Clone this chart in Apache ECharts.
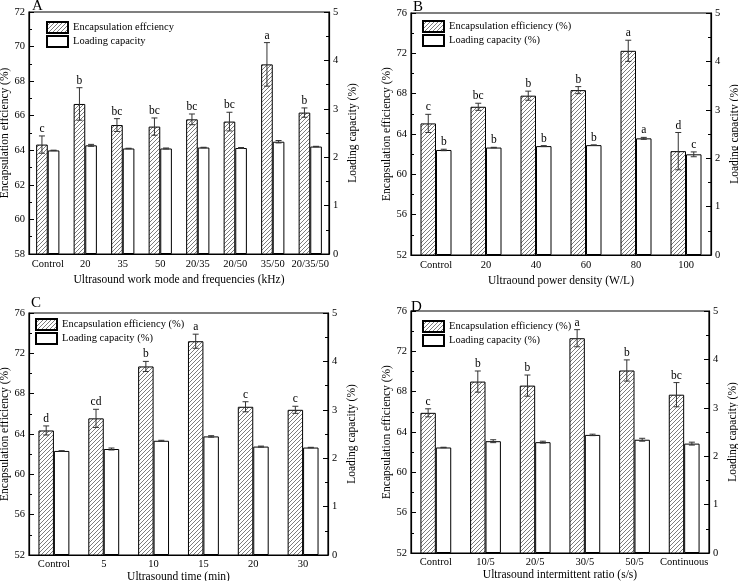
<!DOCTYPE html>
<html>
<head>
<meta charset="utf-8">
<script src="https://cdn.jsdelivr.net/npm/echarts@6/dist/echarts.min.js"></script>
<style>html,body{margin:0;padding:0;background:#fff}#c{width:738px;height:581px}</style>
</head>
<body>
<div id="c"></div>
<script>
// ---------- DATA ----------
const catA = ['Control','20','35','50','20/35','20/50','35/50','20/35/50'];
const eeA = [64.33, 66.68, 65.46, 65.37, 65.79, 65.66, 68.97, 66.18];
const eeErrA = [0.5, 0.94, 0.37, 0.5, 0.31, 0.54, 1.26, 0.27];
const lcA = [2.14, 2.245, 2.18, 2.18, 2.20, 2.19, 2.32, 2.22];
const lcErrA = [0.005, 0.02, 0.005, 0.01, 0.005, 0.01, 0.025, 0.005];
const letEEA = ['c','b','bc','bc','bc','bc','a','b'];
const letLCA = [];

const catB = ['Control','20','40','60','80','100'];
const eeB = [65.05, 66.7, 67.8, 68.35, 72.25, 62.3];
const eeErrB = [0.9, 0.35, 0.45, 0.35, 1.05, 1.85];
const lcB = [2.17, 2.22, 2.25, 2.27, 2.41, 2.08];
const lcErrB = [0.015, 0.005, 0.01, 0.005, 0.02, 0.05];
const letEEB = ['c','bc','b','b','a','d'];
const letLCB = ['b','b','b','b','a','c'];

const catC = ['Control','5','10','15','20','30'];
const eeC = [64.35, 65.55, 70.7, 73.2, 66.7, 66.4];
const eeErrC = [0.45, 0.9, 0.5, 0.7, 0.5, 0.35];
const lcC = [2.15, 2.19, 2.36, 2.45, 2.24, 2.22];
const lcErrC = [0.005, 0.02, 0.01, 0.015, 0.01, 0.005];
const letEEC = ['d','cd','b','a','c','c'];
const letLCC = [];

const catD = ['Control','10/5','20/5','30/5','50/5','Continuous'];
const eeD = [65.9, 69.0, 68.6, 73.3, 70.1, 67.7];
const eeErrD = [0.4, 1.05, 1.05, 0.85, 1.05, 1.2];
const lcD = [2.18, 2.31, 2.29, 2.44, 2.34, 2.26];
const lcErrD = [0.005, 0.03, 0.02, 0.015, 0.03, 0.03];
const letEED = ['c','b','b','a','b','bc'];
const letLCD = [];

const leftTicksA = {min: 58, max: 72, interval: 2};
const leftTicksBCD = {min: 52, max: 76, interval: 4};
const rightTicks = {min: 0, max: 5, interval: 1};

// ---------- STYLE ----------
const FONT = 'Liberation Serif';
function hatch() {
  const s = 4, c = document.createElement('canvas');
  c.width = s; c.height = s;
  const g = c.getContext('2d');
  g.fillStyle = '#fff'; g.fillRect(0, 0, s, s);
  g.strokeStyle = '#444'; g.lineWidth = 0.7;
  g.beginPath();
  g.moveTo(0, s); g.lineTo(s, 0);
  g.moveTo(-1, 1); g.lineTo(1, -1);
  g.moveTo(s - 1, s + 1); g.lineTo(s + 1, s - 1);
  g.stroke();
  return c;
}
const hatchPattern = {image: hatch(), repeat: 'repeat'};

function errRender(letters, side) {
  return function (params, api) {
    const i = api.value(0), v = api.value(1), e = api.value(2);
    const band = api.size([1, 0])[0];
    const off = side * band * 0.155;
    const t = api.coord([i, v + e]);
    const b = api.coord([i, v - e]);
    const x = t[0] + off, cap = 3;
    const st = {stroke: '#333', lineWidth: 1};
    const ch = [
      {type: 'line', shape: {x1: x, y1: t[1], x2: x, y2: b[1]}, style: st},
      {type: 'line', shape: {x1: x - cap, y1: t[1], x2: x + cap, y2: t[1]}, style: st},
      {type: 'line', shape: {x1: x - cap, y1: b[1], x2: x + cap, y2: b[1]}, style: st}
    ];
    const L = letters[params.dataIndex];
    if (L) ch.push({type: 'text', style: {text: L, x: x, y: t[1] - 1, align: 'center', verticalAlign: 'bottom',
      font: '11.5px "' + FONT + '"', fill: '#000'}});
    return {type: 'group', children: ch};
  };
}

const option = {
  animation: false,
  backgroundColor: '#fff',
  title: [], grid: [], xAxis: [], yAxis: [], series: [], legend: []
};

function addPanel(p) {
  const gi = option.grid.length;
  option.grid.push({left: p.g[0], top: p.g[1], width: p.g[2], height: p.g[3], show: true,
    borderColor: '#000', borderWidth: 1.2, backgroundColor: 'transparent', outerBoundsMode: 'none'});
  option.title.push({text: p.label, left: p.lab[0], top: p.lab[1], padding: 0,
    textStyle: {fontFamily: FONT, fontSize: 15, fontWeight: 'normal', color: '#000'}});
  const axLine = {show: true, lineStyle: {color: '#000', width: 1.2}};
  option.xAxis.push({type: 'category', gridIndex: gi, data: p.cats, axisLine: axLine,
    axisTick: {show: false}, axisLabel: {color: '#000', fontFamily: FONT, fontSize: 10.5, margin: p.lm, interval: 0},
    name: p.xName, nameLocation: 'middle', nameGap: p.xGap,
    nameTextStyle: {color: '#000', fontFamily: FONT, fontSize: 11.5}});
  const yl = option.yAxis.length;
  const yCommon = {type: 'value', gridIndex: gi, axisLine: axLine, splitLine: {show: false},
    axisTick: {show: true, inside: true, length: 5, lineStyle: {color: '#000', width: 1}},
    minorTick: {show: true, splitNumber: 2, length: 3, lineStyle: {color: '#000', width: 1}},
    axisLabel: {color: '#000', fontFamily: FONT, fontSize: 10.5, margin: 4},
    nameLocation: 'middle', nameRotate: 90,
    nameTextStyle: {color: '#000', fontFamily: FONT, fontSize: 11.5}};
  option.yAxis.push(Object.assign({}, yCommon, p.left, {position: 'left', name: p.yName, nameGap: 16}));
  option.yAxis.push(Object.assign({}, yCommon, rightTicks, {position: 'right', name: p.y2Name, nameGap: 18}));
  option.series.push({type: 'bar', name: p.names[0], xAxisIndex: gi, yAxisIndex: yl, data: p.ee,
    barWidth: '31%', barGap: '0%', itemStyle: {color: hatchPattern, borderColor: '#000', borderWidth: 1}});
  option.series.push({type: 'bar', name: p.names[1], xAxisIndex: gi, yAxisIndex: yl + 1, data: p.lc,
    barWidth: '31%', barGap: '0%', itemStyle: {color: '#fff', borderColor: '#000', borderWidth: 1}});
  option.series.push({type: 'custom', xAxisIndex: gi, yAxisIndex: yl, z: 5,
    data: p.ee.map((v, i) => [i, v, p.eeErr[i]]), renderItem: errRender(p.letEE, -1)});
  option.series.push({type: 'custom', xAxisIndex: gi, yAxisIndex: yl + 1, z: 5,
    data: p.lc.map((v, i) => [i, v, p.lcErr[i]]), renderItem: errRender(p.letLC, 1)});
  option.legend.push({data: p.names, left: p.leg[0], top: p.leg[1], orient: 'vertical', padding: 0,
    itemGap: 1, itemWidth: 21, itemHeight: 11, icon: 'rect', selectedMode: false,
    textStyle: {color: '#000', fontFamily: FONT, fontSize: 10.5}});
}

addPanel({label: 'A', lab: [32, -1], g: [29, 12, 300, 242], cats: catA, ee: eeA, eeErr: eeErrA, lc: lcA, lcErr: lcErrA,
  letEE: letEEA, letLC: letLCA, left: leftTicksA, xGap: 20, lm: 5,
  xName: 'Ultrasound work mode and frequencies (kHz)', yName: 'Encapsulation effciency (%)', y2Name: 'Loading capacity (%)',
  names: ['Encapsulation effciency', 'Loading capacity'], leg: [46, 21]});
addPanel({label: 'B', lab: [413, 0], g: [411, 13, 300, 242], cats: catB, ee: eeB, eeErr: eeErrB, lc: lcB, lcErr: lcErrB,
  letEE: letEEB, letLC: letLCB, left: leftTicksBCD, xGap: 20, lm: 5,
  xName: 'Ultraound power density (W/L)', yName: 'Encapsulation efficiency (%)', y2Name: 'Loading capacity (%)',
  names: ['Encapsulation efficiency (%)', 'Loading capacity (%)'], leg: [422, 20]});
addPanel({label: 'C', lab: [31, 296], g: [29, 313, 299, 242], cats: catC, ee: eeC, eeErr: eeErrC, lc: lcC, lcErr: lcErrC,
  letEE: letEEC, letLC: letLCC, left: leftTicksBCD, xGap: 15, lm: 4,
  xName: 'Ultrasound time (min)', yName: 'Encapsulation efficiency (%)', y2Name: 'Loading capacity (%)',
  names: ['Encapsulation efficiency (%)', 'Loading capacity (%)'], leg: [35, 318]});
addPanel({label: 'D', lab: [411, 300], g: [411, 311, 298, 242], cats: catD, ee: eeD, eeErr: eeErrD, lc: lcD, lcErr: lcErrD,
  letEE: letEED, letLC: letLCD, left: leftTicksBCD, xGap: 16, lm: 4,
  xName: 'Ultrasound intermittent ratio (s/s)', yName: 'Encapsulation efficiency (%)', y2Name: 'Loading capacity (%)',
  names: ['Encapsulation efficiency (%)', 'Loading capacity (%)'], leg: [422, 320]});

const chart = echarts.init(document.getElementById('c'), null, {renderer: 'canvas'});
chart.setOption(option);
</script>
</body>
</html>
